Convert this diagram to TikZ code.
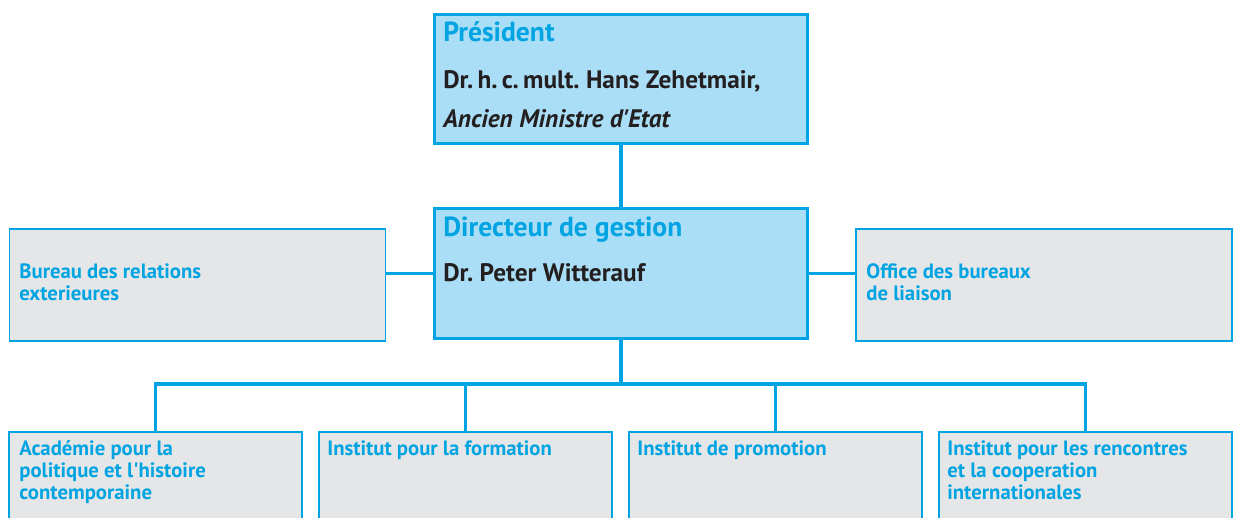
\documentclass[tikz,border=0pt]{standalone}
\usepackage{fontspec}
\setmainfont{PT Sans}[Ligatures=TeXOff]
\frenchspacing
\definecolor{orgblue}{RGB}{0,164,226}
\definecolor{orglight}{RGB}{170,222,246}
\definecolor{orggray}{RGB}{229,230,232}
\definecolor{orgtext}{RGB}{35,31,32}
\begin{document}
\begin{tikzpicture}[x=0.02cm,y=-0.02cm,
    mainbox/.style={draw=orgblue, fill=orglight, line width=1.7pt, minimum width=7.48cm, minimum height=2.6cm, inner sep=0pt},
    sidebox/.style={draw=orgblue, fill=orggray, line width=0.8pt, minimum width=7.52cm, minimum height=2.24cm, inner sep=0pt},
    unitbox/.style={draw=orgblue, fill=orggray, line width=0.8pt, minimum width=5.86cm, minimum height=2.56cm, inner sep=0pt},
    link/.style={draw=orgblue, line width=1.8pt},
    headtxt/.style={anchor=base west, inner sep=0pt, text=orgblue, font=\bfseries\fontsize{15.7}{18}\selectfont},
    nametxt/.style={anchor=base west, inner sep=0pt, text=orgtext, font=\bfseries\fontsize{14.4}{22.7}\selectfont, align=left},
    unittxt/.style={anchor=base west, inner sep=0pt, text=orgblue, font=\bfseries\fontsize{11.8}{12.5}\selectfont, align=left}]
    \clip (0,0) rectangle (1233,517);
    % boxes
    \node[mainbox] (pres) at (621,79) {};
    \node[mainbox] (dir) at (621,273.5) {};
    \node[sidebox] (bureau) at (197.5,285) {};
    \node[sidebox] (office) at (1044,285) {};
    \node[unitbox] (acad) at (155.5,496) {};
    \node[unitbox] (form) at (465.5,496) {};
    \node[unitbox] (promo) at (775.5,496) {};
    \node[unitbox] (renc) at (1085.5,496) {};
    % texts (base = last line)
    \node[headtxt] (prestitle) at (443,42) {Président};
    \node[nametxt] (presname) at (443,128) {Dr.\,h.\,c.\,mult. Hans Zehetmair,\\\textit{Ancien Ministre d'Etat}};
    \node[headtxt] (dirtitle) at (443,236) {Directeur de gestion};
    \node[nametxt] (dirname) at (443,281) {Dr. Peter Witterauf};
    \node[unittxt] (bureautxt) at (19,300) {Bureau des relations\\exterieures};
    \node[unittxt] (officetxt) at (866,300) {Office des bureaux\\de liaison};
    \node[unittxt] (acadtxt) at (19,499) {Académie pour la\\politique et l'histoire\\contemporaine};
    \node[unittxt] (formtxt) at (327,455) {Institut pour la formation};
    \node[unittxt] (promotxt) at (637,455) {Institut de promotion};
    \node[unittxt] (renctxt) at (947,499) {Institut pour les rencontres\\et la cooperation\\internationales};
    % connectors
    \coordinate (bus) at (621,384);
    \draw[link] (pres.south) -- (dir.north);
    \draw[link] (dir.west) -- (dir.west -| bureau.east);
    \draw[link] (dir.east) -- (dir.east -| office.west);
    \draw[link] (dir.south) -- (bus);
    \draw[link] (acad.north) |- (bus) -| (renc.north);
    \draw[link] (form.north) -- (form.north |- bus);
    \draw[link] (promo.north) -- (promo.north |- bus);
\end{tikzpicture}
\end{document}
